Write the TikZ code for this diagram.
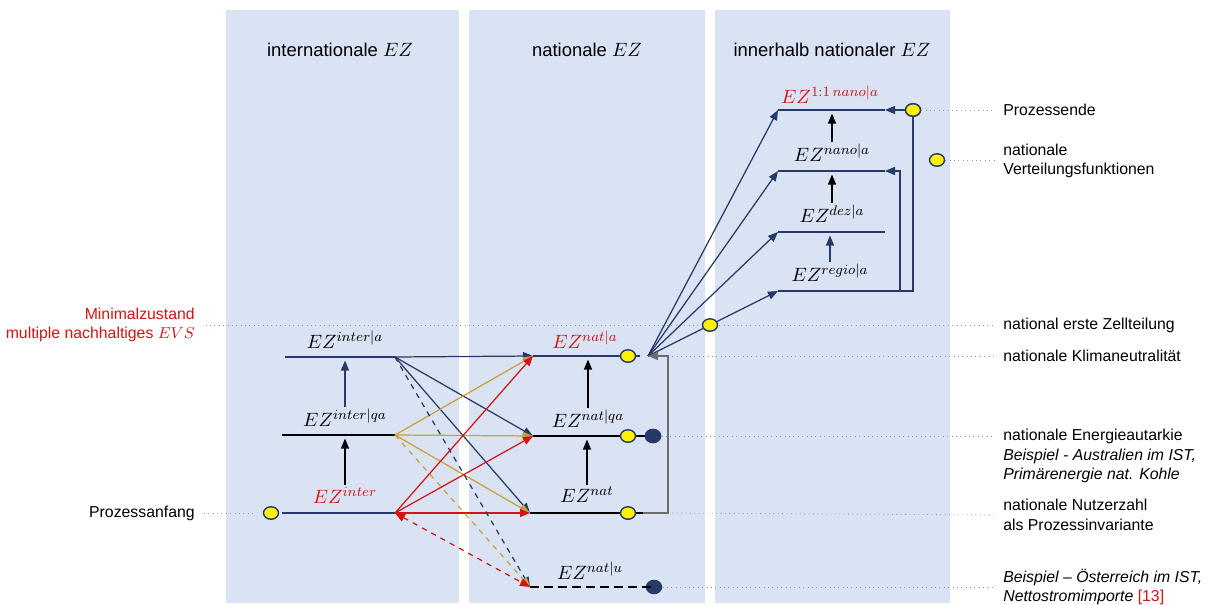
\documentclass[tikz,border=0pt]{standalone}
\usepackage{fontspec}
\setmainfont{Liberation Sans}
\usepackage{amsmath}
\usetikzlibrary{arrows.meta,positioning,calc,shapes.geometric}
\definecolor{panel}{RGB}{218,227,243}
\definecolor{navy}{RGB}{38,58,105}
\definecolor{gold}{RGB}{204,160,56}
\definecolor{dred}{RGB}{210,20,20}
\definecolor{dotc}{RGB}{150,150,150}
\definecolor{brk}{RGB}{110,110,110}
\tikzset{
  lvl/.style ={line width=1.7pt},
  ez/.style  ={font=\fontsize{11}{13}\selectfont,inner sep=1pt},
  lab/.style ={font=\fontsize{9}{11}\selectfont,align=left,anchor=west,inner sep=0pt},
  ttl/.style ={font=\fontsize{10.5}{12}\selectfont},
  yel/.style ={ellipse,draw=navy,line width=0.8pt,fill=yellow,minimum width=3mm,minimum height=2.5mm,inner sep=0pt},
  blu/.style ={ellipse,fill=navy,minimum width=3.3mm,minimum height=2.9mm,inner sep=0pt},
  ar/.style  ={-{Triangle[length=2mm,width=1.6mm]},line width=0.7pt},
  dotl/.style={dotc,dotted,line width=0.5pt,shorten >=5pt},
}
\begin{document}
\begin{tikzpicture}[x=0.02cm,y=-0.02cm]
  \useasboundingbox (0,0) rectangle (1215,605);
  % columns
  \fill[panel] (226,10) rectangle (459,603);
  \fill[panel] (469,10) rectangle (705,603);
  \fill[panel] (715,10) rectangle (950,603);
  \node[ttl] (t1) at (340,50) {internationale $EZ$};
  \node[ttl] (t2) at (587,50) {nationale $EZ$};
  \node[ttl] (t3) at (832,50) {innerhalb nationaler $EZ$};

  % side labels
  \node[lab,anchor=east,align=right,text=dred] (min) at (195,325) {Minimalzustand\\multiple nachhaltiges $EVS$};
  \node[lab,anchor=east] (pa) at (195,513) {Prozessanfang};
  \node[lab] (pende) at (1003,110) {Prozessende};
  \node[lab] (vfl) at (1003,161) {nationale\\Verteilungsfunktionen};
  \node[lab] (zell) at (1003,325) {national erste Zellteilung};
  \node[lab] (klima) at (1003,356) {nationale Klimaneutralität};
  \node[lab,anchor=north west] (auto) at (1003,429) {nationale Energieautarkie\\\textit{Beispiel - Australien im IST,}\\\textit{Primärenergie nat. Kohle}};
  \node[lab] (nutz) at (1003,515) {nationale Nutzerzahl\\als Prozessinvariante};
  \node[lab] (oest) at (1003,587) {\textit{Beispiel – Österreich im IST,}\\\textit{Nettostromimporte} \textcolor{dred}{[13]}};

  % level ends
  \coordinate (ia-l) at (285,357); \coordinate (ia-r) at (395,357);
  \coordinate (iq-l) at (282,435); \coordinate (iq-r) at (395,435);
  \coordinate (i0-l) at (282,513); \coordinate (i0-r) at (395,513);
  \coordinate (na-l) at (533,356); \coordinate (na-r) at (640,356);
  \coordinate (nq-l) at (533,436); \coordinate (nq-r) at (653,436);
  \coordinate (n0-l) at (530,513); \coordinate (n0-r) at (643,513);
  \coordinate (nu-l) at (530,587); \coordinate (nu-r) at (652,587);
  \coordinate (hub) at (648,356);
  \coordinate (brk-t) at (668,356); \coordinate (brk-b) at (668,513);
  \coordinate (k1-l) at (778,110); \coordinate (k1-r) at (885,110);
  \coordinate (k2-l) at (778,171); \coordinate (k2-r) at (885,171);
  \coordinate (k3-l) at (778,232); \coordinate (k3-r) at (885,232);
  \coordinate (k4-l) at (778,291); \coordinate (k4-r) at (885,291);
  \coordinate (b2) at (900,291);

  \node[yel] (s0) at (271,513) {};
  \node[yel] (pe) at (913,110) {};
  \node[yel] (vf) at (937,160) {};
  \node[blu] (dq) at (653,436) {};
  \node[blu] (du) at (654,587) {};

  % dotted guides
  \draw[dotl,shorten <=6pt] (min.east) -- (zell.west);
  \draw[dotl,shorten <=5pt] (pa.east) -- (s0.west);
  \draw[dotl] (pe.east) -- (pende.west);
  \draw[dotl] (vf.east) -- (vf.east -| vfl.west);
  \draw[dotl] (brk-t) -- (klima.west);
  \draw[dotl] (dq.east) -- (dq.east -| auto.west);
  \draw[dotl] (brk-b) -- (nutz.west);
  \draw[dotl] (du.east) -- (oest.west);

  % levels
  \draw[lvl,navy] (ia-l) -- (ia-r);
  \draw[lvl] (iq-l) -- (iq-r);
  \draw[lvl,navy] (i0-l) -- (i0-r);
  \draw[lvl,navy] (na-l) -- (na-r);
  \draw[lvl] (nq-l) -- (nq-r);
  \draw[lvl] (n0-l) -- (n0-r);
  \draw[lvl,dash pattern=on 5pt off 3pt] (nu-l) -- (nu-r);
  \foreach \k in {k1,k2,k3,k4} \draw[lvl,navy] (\k-l) -- (\k-r);

  \node[ez] (la) at (345,340) {$EZ^{inter|a}$};
  \node[ez] (lq) at (345,418) {$EZ^{inter|qa}$};
  \node[ez,text=dred] (l0) at (345,495) {$EZ^{inter}$};
  \node[ez,text=dred] (ma) at (585,340) {$EZ^{nat|a}$};
  \node[ez] (mq) at (588,419) {$EZ^{nat|qa}$};
  \node[ez] (m0) at (587,495) {$EZ^{nat}$};
  \node[ez] (mu) at (590,571) {$EZ^{nat|u}$};
  \node[ez,text=dred] (r1) at (830,95) {$EZ^{1:1\,nano|a}$};
  \node[ez] (r2) at (832,153) {$EZ^{nano|a}$};
  \node[ez] (r3) at (832,214) {$EZ^{dez|a}$};
  \node[ez] (r4) at (830,273) {$EZ^{regio|a}$};

  % upward steps
  \draw[ar,navy,shorten >=2pt] (lq.north) -- (lq.north |- ia-l);
  \draw[ar,shorten >=2pt] (l0.north) -- (l0.north |- iq-l);
  \draw[ar,shorten >=2pt] (mq.north) -- (mq.north |- na-l);
  \draw[ar,shorten >=2pt] (m0.north) -- (m0.north |- nq-l);
  \draw[ar,shorten >=2pt] (r2.north) -- (r2.north |- k1-l);
  \draw[ar,shorten >=2pt] (r3.north) -- (r3.north |- k2-l);
  \draw[ar,navy,shorten >=2pt] (r4.north) -- (r4.north |- k3-l);

  % international -> national
  \foreach \tgt in {na-l,nq-l,n0-l} \draw[ar,navy] (ia-r) -- (\tgt);
  \foreach \tgt in {na-l,nq-l,n0-l} \draw[ar,gold] (iq-r) -- (\tgt);
  \foreach \tgt in {na-l,nq-l,n0-l} \draw[ar,dred] (i0-r) -- (\tgt);
  \draw[ar,navy,dashed] (ia-r) -- (nu-l);
  \draw[ar,gold,dashed] (iq-r) -- (nu-l);
  \draw[ar,dred,dashed,{Triangle[length=2mm,width=1.6mm]}-{Triangle[length=2mm,width=1.6mm]}] (i0-r) -- (nu-l);

  % national -> within national
  \foreach \tgt in {k1-l,k2-l,k3-l,k4-l} \draw[ar,navy] (hub) -- (\tgt);
  \draw[ar,brk,line width=0.9pt] (n0-r) -- (brk-b) -- (brk-t) -- (hub);
  \draw[navy,line width=0.8pt] (k4-r) -| (pe.south);
  \draw[ar,navy,line width=0.8pt] (b2) |- (k2-r);
  \draw[ar,navy,line width=0.8pt] (pe.west) -- (k1-r);

  \node[yel] (ca) at (628,356) {};
  \node[yel] (cq) at (628,436) {};
  \node[yel] (c0) at (628,513) {};
  \node[yel] (zt) at (710,325) {};
  \node[yel] at (pe) {};
  \node[blu] at (dq) {};
\end{tikzpicture}
\end{document}
